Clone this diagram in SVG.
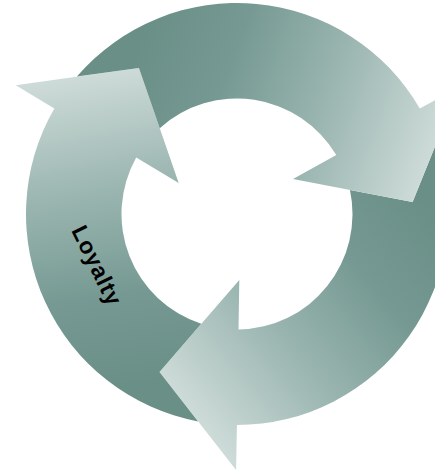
<svg xmlns="http://www.w3.org/2000/svg" xmlns:xlink="http://www.w3.org/1999/xlink" width="435" height="475" viewBox="0 0 435 475">
<style>
.label{font-family:"Liberation Sans",Arial,sans-serif;font-weight:bold;font-size:23px;fill:#000;letter-spacing:0.8px}
</style>
<defs>
<linearGradient id="g" gradientUnits="userSpaceOnUse" x1="180" y1="-20" x2="-60" y2="180">
<stop offset="0" stop-color="#6a8f87"/>
<stop offset="0.3" stop-color="#769a93"/>
<stop offset="0.65" stop-color="#9db7b2"/>
<stop offset="1" stop-color="#cddbd8"/>
</linearGradient>
<path id="arrow" fill="url(#g)" d="M -0.1 211 L -0.9 256 L -77.5 158 L 2.3 66 L 1.5 115.5 A 115.5 115.5 0 0 0 112.98 -23.98 L 175.58 -11.88 L 199.05 -70 A 211 211 0 0 1 -0.1 211 Z"/>
</defs>
<g id="arrow-bottom"><use xlink:href="#arrow" href="#arrow" transform="translate(237 214)"/></g>
<g id="arrow-left"><use xlink:href="#arrow" href="#arrow" transform="translate(237 214) rotate(120)"/>
<text class="label" transform="translate(97 265.5) rotate(64)" text-anchor="middle" dominant-baseline="central">Loyalty</text></g>
<g id="arrow-top"><use xlink:href="#arrow" href="#arrow" transform="translate(237 214) rotate(240)"/></g>
<g id="connectors"/>
</svg>
